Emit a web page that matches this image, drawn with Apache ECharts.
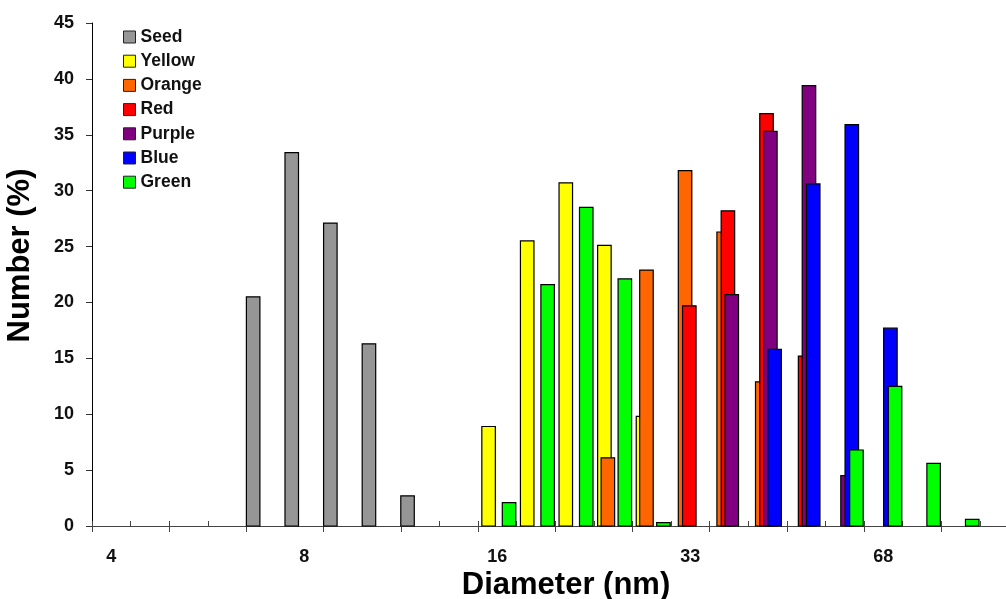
<!DOCTYPE html>
<html>
<head>
<meta charset="utf-8">
<script src="https://cdn.jsdelivr.net/npm/echarts@6/dist/echarts.min.js"></script>
<style>
  html, body { margin: 0; padding: 0; background: #fff; }
  #chart { width: 1006px; height: 599px; }
</style>
</head>
<body>
<div id="chart"></div>
<script>
// bins are log-spaced size classes (index along the diameter axis)
const seedBins = [4, 5, 6, 7, 8]
const seedValues = [20.5, 33.4, 27.1, 16.3, 2.7]
const yellowBins = [10, 11, 12, 13, 14]
const yellowValues = [8.9, 25.5, 30.7, 25.1, 9.8]
const orangeBins = [13, 14, 15, 16, 17]
const orangeValues = [6.1, 22.9, 31.8, 26.3, 12.9]
const redBins = [15, 16, 17, 18]
const redValues = [19.7, 28.2, 36.9, 15.2]
const purpleBins = [16, 17, 18, 19]
const purpleValues = [20.7, 35.3, 39.4, 4.5]
const blueBins = [17, 18, 19, 20]
const blueValues = [15.8, 30.6, 35.9, 17.7]
const greenBins = [10, 11, 12, 13, 14, 19, 20, 21, 22]
const greenValues = [2.1, 21.6, 28.5, 22.1, 0.3, 6.8, 12.5, 5.6, 0.6]

const xTickLabels = ['4', '8', '16', '33', '68']
const xLabelBins = [0.5, 5.5, 10.5, 15.5, 20.5]

const FONT = "'Liberation Sans', Arial, Helvetica, sans-serif"
const BAR_W = 0.35
const X_MAX = 23.68

const groups = [
  { name: 'Seed', bins: seedBins, values: seedValues, color: '#969696', shift: 0.0 },
  { name: 'Yellow', bins: yellowBins, values: yellowValues, color: '#ffff00', shift: 0.1 },
  { name: 'Orange', bins: orangeBins, values: orangeValues, color: '#ff6600', shift: 0.19 },
  { name: 'Red', bins: redBins, values: redValues, color: '#ff0000', shift: 0.3 },
  { name: 'Purple', bins: purpleBins, values: purpleValues, color: '#800080', shift: 0.4 },
  { name: 'Blue', bins: blueBins, values: blueValues, color: '#0000ff', shift: 0.51 },
  { name: 'Green', bins: greenBins, values: greenValues, color: '#00ff00', shift: 0.63 },
]

function makeSeries(g) {
  return {
    name: g.name,
    type: 'custom',
    xAxisIndex: 0,
    yAxisIndex: 0,
    itemStyle: { color: g.color, borderColor: '#000', borderWidth: 1 },
    encode: { x: 0, y: 1 },
    data: g.bins.map((b, i) => [b, g.values[i]]),
    renderItem: function (params, api) {
      var x0 = api.value(0) + g.shift
      var top = api.coord([x0, api.value(1)])
      var bottom = api.coord([x0 + BAR_W, 0])
      return {
        type: 'rect',
        shape: {
          x: top[0],
          y: top[1],
          width: bottom[0] - top[0],
          height: bottom[1] - top[1],
        },
        style: { fill: g.color, stroke: '#000', lineWidth: 1.2 },
      }
    },
  }
}

var chart = echarts.init(document.getElementById('chart'))
chart.setOption({
  animation: false,
  backgroundColor: '#fff',
  grid: { left: 92, right: 0, top: 23, bottom: 73, outerBoundsMode: 'none' },
  legend: {
    orient: 'vertical',
    left: 123,
    top: 28,
    padding: 0,
    icon: 'rect',
    itemWidth: 12,
    itemHeight: 12,
    itemGap: 6.2,
    itemStyle: { borderColor: '#222', borderWidth: 1 },
    textStyle: { fontFamily: FONT, fontSize: 17.5, fontWeight: 'bold', color: '#111', lineHeight: 17 },
    data: groups.map(g => g.name),
  },
  xAxis: [
    {
      // main axis line + downward ticks
      type: 'value',
      position: 'bottom',
      min: 0,
      max: X_MAX,
      interval: 2,
      name: 'Diameter (nm)',
      nameLocation: 'middle',
      nameGap: 44,
      nameTextStyle: { fontFamily: FONT, fontSize: 31, fontWeight: 'bold', color: '#000', padding: [0, 0, 0, 34] },
      axisLine: { show: true, onZero: false, lineStyle: { color: '#444', width: 1 } },
      axisTick: { show: true, inside: false, length: 6, lineStyle: { color: '#444' } },
      axisLabel: { show: false },
      splitLine: { show: false },
    },
    {
      // upward ticks at every bin
      type: 'value',
      position: 'bottom',
      min: 0,
      max: X_MAX,
      interval: 1,
      axisLine: { show: false, onZero: false },
      axisTick: { show: true, inside: true, length: 5, lineStyle: { color: '#444' } },
      axisLabel: { show: false },
      splitLine: { show: false },
    },
    {
      // labels sit between ticks
      type: 'value',
      position: 'bottom',
      min: 0,
      max: X_MAX,
      interval: 0.5,
      axisLine: { show: false, onZero: false },
      axisTick: { show: false },
      splitLine: { show: false },
      axisLabel: {
        show: true,
        margin: 22,
        fontFamily: FONT,
        fontSize: 18,
        fontWeight: 'bold',
        color: '#111',
        formatter: function (v) {
          for (var i = 0; i < xLabelBins.length; i++) {
            if (Math.abs(v - xLabelBins[i]) < 1e-6) return xTickLabels[i]
          }
          return ''
        },
      },
    },
  ],
  yAxis: {
    type: 'value',
    min: 0,
    max: 45,
    interval: 5,
    name: 'Number (%)',
    nameLocation: 'middle',
    nameGap: 56,
    nameTextStyle: { fontFamily: FONT, fontSize: 31, fontWeight: 'bold', color: '#000', padding: [0, 0, 0, 38] },
    axisLine: { show: true, lineStyle: { color: '#000', width: 1 } },
    axisTick: { show: true, inside: false, length: 6, lineStyle: { color: '#333' } },
    axisLabel: { margin: 18, fontFamily: FONT, fontSize: 18, fontWeight: 'bold', color: '#111' },
    splitLine: { show: false },
  },
  series: groups.map(makeSeries),
})
</script>
</body>
</html>
